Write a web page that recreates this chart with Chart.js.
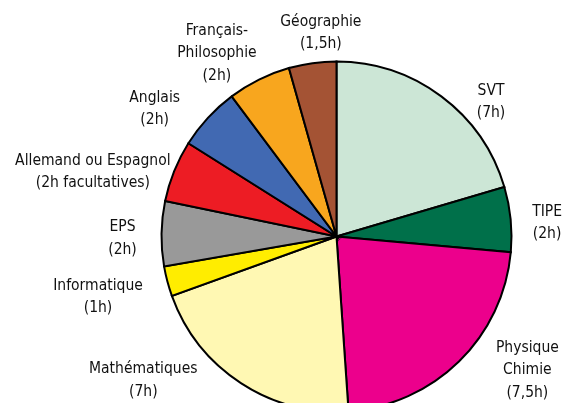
<!DOCTYPE html>
<html>
<head>
<meta charset="utf-8">
<script src="https://cdn.jsdelivr.net/npm/chart.js@4/dist/chart.umd.min.js"></script>
<style>
  html, body { margin: 0; padding: 0; background: #ffffff; }
  #wrap { width: 579px; height: 403px; position: relative; }
</style>
</head>
<body>
<div id="wrap"><canvas id="c" width="579" height="403"></canvas></div>
<script>
// ---- data ----
const categories = ["SVT", "TIPE", "Physique Chimie", "Mathématiques", "Informatique", "EPS",
  "Allemand ou Espagnol", "Anglais", "Français-Philosophie", "Géographie"];
const hours = [7.0, 2.05, 7.7, 7.05, 0.95, 2.05, 1.95, 2.0, 2.0, 1.5];
const labelLines = [
  ["SVT", "(7h)"],
  ["TIPE", "(2h)"],
  ["Physique", "Chimie", "(7,5h)"],
  ["Mathématiques", "(7h)"],
  ["Informatique", "(1h)"],
  ["EPS", "(2h)"],
  ["Allemand ou Espagnol", "(2h facultatives)"],
  ["Anglais", "(2h)"],
  ["Français-", "Philosophie", "(2h)"],
  ["Géographie", "(1,5h)"]
];

// ---- styles / layout ----
const colors = ["#cce6d6", "#00704a", "#ec008c", "#fff8b3", "#ffed00", "#999999",
  "#ed1c24", "#4169b2", "#f8a61e", "#a45334"];
// label anchor: [angle clockwise from top (deg), distance from centre (px)]
const labelPlace = [[48.9, 205], [86.3, 211], [125.0, 233], [233.3, 241], [255.8, 246],
  [269.5, 214], [284.8, 252], [305.0, 222], [326.9, 219], [355.6, 204]];
const FONT = '15.5px "DejaVu Sans Condensed"';
const LINE_H = 22.5;

const labelPlugin = {
  id: 'outsideLabels',
  afterDraw(chart) {
    const ctx = chart.ctx;
    const meta = chart.getDatasetMeta(0);
    ctx.save();
    ctx.font = FONT;
    ctx.fillStyle = '#111111';
    ctx.textAlign = 'center';
    ctx.textBaseline = 'middle';
    meta.data.forEach((arc, i) => {
      const a = labelPlace[i][0] * Math.PI / 180;
      const d = labelPlace[i][1];
      const cx = arc.x + Math.sin(a) * d;
      const cy = arc.y - Math.cos(a) * d;
      const lines = labelLines[i];
      lines.forEach((t, k) => {
        ctx.fillText(t, cx, cy + (k - (lines.length - 1) / 2) * LINE_H);
      });
    });
    ctx.restore();
  }
};

new Chart(document.getElementById('c'), {
  type: 'pie',
  data: {
    labels: categories,
    datasets: [{
      data: hours,
      backgroundColor: colors,
      borderColor: '#000000',
      borderWidth: 2,
      borderJoinStyle: 'miter'
    }]
  },
  options: {
    responsive: false,
    animation: false,
    radius: 175,
    layout: { padding: { left: 94, right: 0, top: 70, bottom: 0 } },
    plugins: { legend: { display: false }, tooltip: { enabled: false } }
  },
  plugins: [labelPlugin]
});
</script>
</body>
</html>
